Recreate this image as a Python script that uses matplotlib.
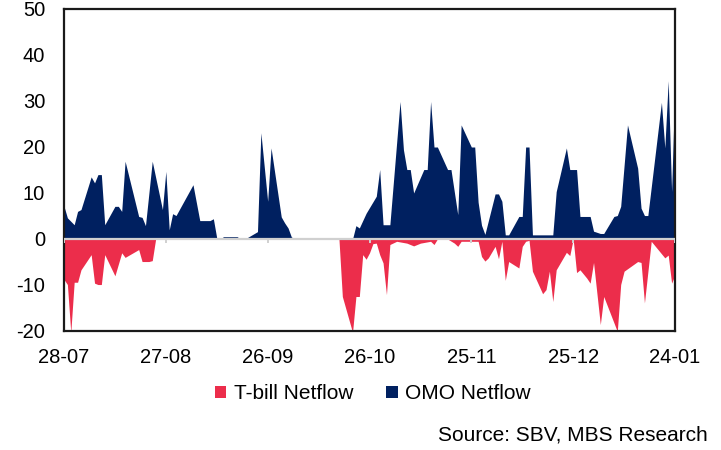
import numpy as np
import matplotlib
matplotlib.use("Agg")
import matplotlib.pyplot as plt
import matplotlib.dates as mdates
from matplotlib.patches import Patch

plt.rcParams["font.family"] = ["Liberation Sans", "DejaVu Sans"]
plt.rcParams["axes.unicode_minus"] = False

# OMO net flow (trillion VND), positive side
omo_dates = [
    "2023-07-28", "2023-07-29", "2023-07-31", "2023-08-01", "2023-08-02", "2023-08-05",
    "2023-08-06", "2023-08-07", "2023-08-08", "2023-08-09", "2023-08-12", "2023-08-13",
    "2023-08-14", "2023-08-15", "2023-08-19", "2023-08-20", "2023-08-21", "2023-08-23",
    "2023-08-26", "2023-08-27", "2023-08-28", "2023-08-29", "2023-08-30", "2023-09-04",
    "2023-09-06", "2023-09-09", "2023-09-10", "2023-09-11", "2023-09-12", "2023-09-13",
    "2023-09-17", "2023-09-18", "2023-09-20", "2023-09-23", "2023-09-24", "2023-09-26",
    "2023-09-27", "2023-09-30", "2023-10-01", "2023-10-02", "2023-10-03", "2023-10-04",
    "2023-10-06", "2023-10-07", "2023-10-21", "2023-10-22", "2023-10-23", "2023-10-25",
    "2023-10-28", "2023-10-29", "2023-10-30", "2023-11-01", "2023-11-04", "2023-11-05",
    "2023-11-06", "2023-11-07", "2023-11-08", "2023-11-11", "2023-11-12", "2023-11-13",
    "2023-11-14", "2023-11-15", "2023-11-18", "2023-11-19", "2023-11-21", "2023-11-22",
    "2023-11-25", "2023-11-26", "2023-11-27", "2023-11-28", "2023-11-29", "2023-12-02",
    "2023-12-03", "2023-12-04", "2023-12-05", "2023-12-06", "2023-12-09", "2023-12-10",
    "2023-12-11", "2023-12-12", "2023-12-13", "2023-12-19", "2023-12-20", "2023-12-23",
    "2023-12-24", "2023-12-26", "2023-12-27", "2023-12-30", "2023-12-31", "2024-01-02",
    "2024-01-03", "2024-01-06", "2024-01-07", "2024-01-08", "2024-01-10", "2024-01-13",
    "2024-01-14", "2024-01-15", "2024-01-16", "2024-01-20", "2024-01-21", "2024-01-22",
    "2024-01-23", "2024-01-24",
]
omo_values = [
    7.1, 4.6, 3.1, 6.0, 6.4, 13.5,
    12.2, 14.0, 14.0, 3.1, 7.1, 7.1,
    6.0, 16.9, 4.9, 4.7, 2.9, 16.9,
    6.4, 14.7, 2.0, 5.5, 5.1, 11.8,
    4.0, 4.0, 4.4, 0.2, 0.0, 0.5,
    0.5, 0.0, 0.3, 1.6, 23.1, 8.2,
    19.8, 4.8, 3.5, 2.4, 0.4, 0.2,
    0.2, 0.0, 0.0, 2.9, 2.4, 5.6,
    9.3, 15.1, 3.1, 3.1, 29.9, 19.4,
    15.1, 15.1, 10.0, 15.1, 15.1, 29.9,
    20.0, 20.0, 15.1, 15.1, 5.3, 24.8,
    20.0, 20.0, 8.0, 3.0, 1.0, 9.8,
    9.8, 8.2, 0.9, 0.9, 4.9, 4.9,
    20.0, 20.0, 0.9, 0.9, 10.3, 19.8,
    15.1, 15.1, 4.9, 4.9, 1.7, 1.2,
    1.2, 4.9, 5.1, 7.1, 24.8, 15.4,
    6.7, 5.1, 5.1, 29.7, 19.8, 34.4,
    10.3, 34.5,
]

# T-bill net flow (trillion VND), negative side
tbill_dates = [
    "2023-07-28", "2023-07-29", "2023-07-30", "2023-07-31", "2023-08-01", "2023-08-02",
    "2023-08-05", "2023-08-06", "2023-08-07", "2023-08-08", "2023-08-09", "2023-08-12",
    "2023-08-14", "2023-08-15", "2023-08-19", "2023-08-20", "2023-08-22", "2023-08-23",
    "2023-08-24", "2023-10-17", "2023-10-18", "2023-10-21", "2023-10-22", "2023-10-23",
    "2023-10-24", "2023-10-25", "2023-10-26", "2023-10-27", "2023-10-28", "2023-10-29",
    "2023-10-30", "2023-10-31", "2023-11-01", "2023-11-03", "2023-11-06", "2023-11-08",
    "2023-11-10", "2023-11-13", "2023-11-14", "2023-11-15", "2023-11-18", "2023-11-20",
    "2023-11-21", "2023-11-22", "2023-11-27", "2023-11-28", "2023-11-29", "2023-11-30",
    "2023-12-02", "2023-12-03", "2023-12-04", "2023-12-05", "2023-12-06", "2023-12-09",
    "2023-12-10", "2023-12-11", "2023-12-12", "2023-12-13", "2023-12-16", "2023-12-17",
    "2023-12-18", "2023-12-19", "2023-12-20", "2023-12-23", "2023-12-24", "2023-12-25",
    "2023-12-26", "2023-12-27", "2023-12-29", "2023-12-30", "2023-12-31", "2024-01-02",
    "2024-01-03", "2024-01-07", "2024-01-08", "2024-01-09", "2024-01-13", "2024-01-14",
    "2024-01-15", "2024-01-17", "2024-01-21", "2024-01-22", "2024-01-23", "2024-01-24",
]
tbill_values = [
    -8.8, -9.9, -20.3, -9.4, -9.4, -6.7,
    -3.4, -9.6, -9.9, -9.9, -3.4, -8.0,
    -3.0, -4.0, -2.3, -4.9, -4.9, -4.7,
    0.0, 0.0, -12.5, -20.3, -12.5, -12.5,
    -3.4, -4.4, -3.0, -1.0, -0.9, -3.4,
    -5.2, -12.1, -1.2, -0.5, -0.9, -1.5,
    -0.9, -0.5, -1.2, 0.0, 0.0, -0.9,
    -1.6, -0.5, -0.5, -3.8, -4.8, -4.1,
    -1.6, -4.3, -0.5, -9.0, -4.9, -6.3,
    -1.6, -0.5, -0.3, -7.0, -11.9, -11.0,
    -7.0, -13.6, -6.7, -2.9, -3.6, 0.0,
    -7.3, -6.7, -8.5, -9.6, -5.1, -18.6,
    -12.5, -20.1, -9.9, -7.0, -4.9, -5.1,
    -13.9, -0.5, -4.1, -3.5, -9.6, -7.8,
]

tick_dates = ["2023-07-28", "2023-08-27", "2023-09-26", "2023-10-26",
              "2023-11-25", "2023-12-25", "2024-01-24"]
y_ticks = [-20, -10, 0, 10, 20, 30, 40, 50]

navy = "#002060"
red = "#EC2D4B"

omo_x = np.array(omo_dates, dtype="datetime64[D]")
tbill_x = np.array(tbill_dates, dtype="datetime64[D]")
ticks_x = np.array(tick_dates, dtype="datetime64[D]")

fig = plt.figure(figsize=(7.21, 4.5), dpi=100)
ax = fig.add_axes([64 / 721, 1 - 331 / 450, (675 - 64) / 721, (331 - 9) / 450])

ax.fill_between(tbill_x, tbill_values, 0, color=red, lw=0, zorder=2)
ax.fill_between(omo_x, omo_values, 0, color=navy, lw=0, zorder=2)

# category axis line at zero with small tick marks hanging below it
ax.axhline(0, color="#d0d0d0", lw=1.6, zorder=3)
ax.vlines(ticks_x, -0.9, 0, color="#d0d0d0", lw=1.4, zorder=3)

ax.set_xlim(ticks_x[0], ticks_x[-1])
ax.set_ylim(-20, 50)
ax.set_yticks(y_ticks)
ax.set_xticks(ticks_x)
ax.xaxis.set_major_formatter(mdates.DateFormatter("%d-%m"))
ax.tick_params(axis="both", length=0, labelsize=14.5, colors="black")
ax.tick_params(axis="x", pad=12.5)
ax.tick_params(axis="y", pad=13.5)

for s in ax.spines.values():
    s.set_color("#1a1a1a")
    s.set_linewidth(1.6)

handles = [Patch(facecolor=red, edgecolor="none", label="T-bill Netflow"),
           Patch(facecolor=navy, edgecolor="none", label="OMO Netflow")]
fig.legend(handles=handles, loc="center", bbox_to_anchor=(0.517, 0.125), ncol=2,
           frameon=False, fontsize=15, handlelength=0.55, handleheight=0.55,
           handletextpad=0.35, columnspacing=1.6)

fig.text(708 / 721, 0.033, "Source: SBV, MBS Research", ha="right", va="center",
         fontsize=15)

fig.savefig("out.png", dpi=100)
